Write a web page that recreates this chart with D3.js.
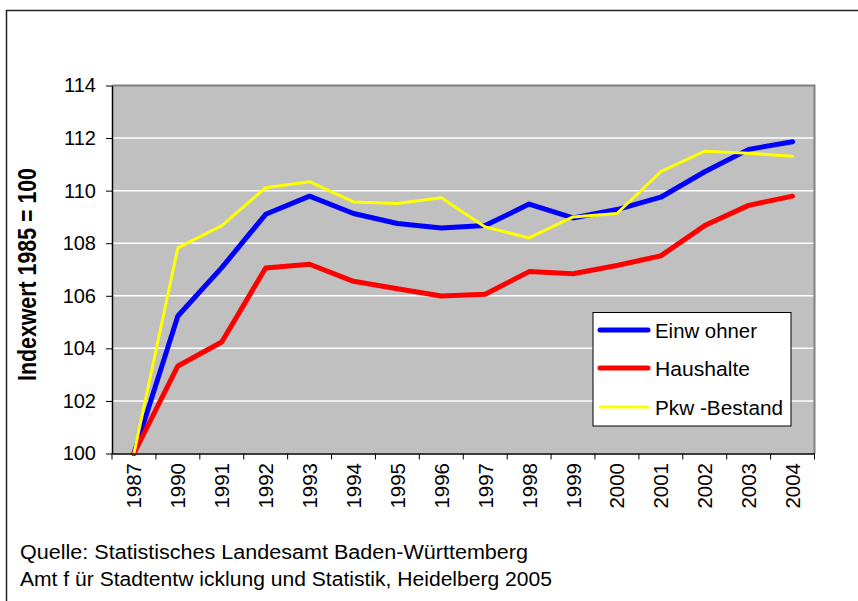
<!DOCTYPE html>
<html><head><meta charset="utf-8">
<script src="https://cdn.jsdelivr.net/npm/d3@7"></script>
<style>html,body{margin:0;padding:0;background:#fff;}svg{display:block;font-family:Arial,"Liberation Sans",sans-serif;}</style>
</head><body>
<svg id="c" width="858" height="601"></svg>
<script>
const years = ["1987","1990","1991","1992","1993","1994","1995","1996","1997","1998","1999","2000","2001","2002","2003","2004"];
const einwohner = [100,105.23,107.07,109.10,109.79,109.13,108.75,108.58,108.67,109.49,108.96,109.28,109.75,110.72,111.57,111.86];
const haushalte = [100,103.33,104.24,107.06,107.20,106.55,106.27,105.99,106.06,106.92,106.84,107.15,107.52,108.67,109.44,109.79];
const pkw = [100,107.82,108.67,110.11,110.34,109.57,109.51,109.73,108.62,108.20,109.00,109.13,110.72,111.50,111.42,111.31];
const yTicks = [100,102,104,106,108,110,112,114];
const seriesNames = ["Einw ohner","Haushalte","Pkw -Bestand"];
const seriesColors = ["#0000ff","#ff0000","#ffff00"];
const seriesWidths = [5,5,3];
const yTitle = "Indexwert 1985 = 100";
const source1 = "Quelle: Statistisches Landesamt Baden-Württemberg";
const source2 = "Amt f ür Stadtentw icklung und Statistik, Heidelberg 2005";

const svg = d3.select("#c");
const L = 112, R = 814.5, T = 85.5, B = 453.5;
const FF = "Arial, 'Liberation Sans', sans-serif";

svg.append("rect").attr("x",6.5).attr("y",10.5).attr("width",860).attr("height",620)
  .attr("fill","none").attr("stroke","#222").attr("stroke-width",1.5);

const x = d3.scaleBand().domain(years).range([L,R]).padding(0);
const y = d3.scaleLinear().domain([100,114]).range([B,T]);

svg.append("rect").attr("x",L).attr("y",T).attr("width",R-L).attr("height",B-T).attr("fill","#c0c0c0");

svg.append("g").selectAll("line").data(yTicks.filter(d=>d>100 && d<114)).join("line")
  .attr("x1",L).attr("x2",R).attr("y1",d=>y(d)).attr("y2",d=>y(d))
  .attr("stroke","#fff").attr("stroke-width",1.5);

svg.append("path").attr("d",`M${L},${T}H${R}V${B}`).attr("fill","none").attr("stroke","#808080").attr("stroke-width",2);

const line = d3.line().x((d,i)=>x(years[i])+x.bandwidth()/2).y(d=>y(d)).curve(d3.curveLinear);
[einwohner,haushalte,pkw].forEach((s,k)=>{
  svg.append("path").datum(s).attr("d",line).attr("fill","none")
    .attr("stroke",seriesColors[k]).attr("stroke-width",seriesWidths[k])
    .attr("stroke-linejoin","round").attr("stroke-linecap","round");
});

const ya = svg.append("g").attr("transform",`translate(${L},0)`)
  .call(d3.axisLeft(y).tickValues(yTicks).tickSize(6).tickSizeOuter(0).tickPadding(10));
ya.attr("font-family",FF).attr("font-size",20);
ya.select(".domain").attr("stroke","#000").attr("stroke-width",1.5);
ya.selectAll(".tick line").attr("stroke","#000");
ya.selectAll(".tick text").attr("fill","#000");

const xa = svg.append("g").attr("transform",`translate(0,${B})`)
  .call(d3.axisBottom(x).tickSize(0).tickSizeOuter(0));
xa.select(".domain").attr("stroke","#000").attr("stroke-width",1.5);
xa.selectAll(".tick text").remove();
const bounds = years.map(d=>x(d)).concat([R]);
xa.selectAll(".bt").data(bounds).join("line").attr("class","bt")
  .attr("x1",d=>d).attr("x2",d=>d).attr("y1",0).attr("y2",6).attr("stroke","#000");
svg.append("g").attr("font-family",FF).selectAll("text").data(years).join("text")
  .attr("transform",d=>`translate(${x(d)+x.bandwidth()/2+7.5},463) rotate(-90)`)
  .attr("text-anchor","end").attr("font-size",20.5).attr("fill","#000").text(d=>d);

svg.append("text").attr("transform",`translate(36,274.5) rotate(-90)`)
  .attr("text-anchor","middle").attr("font-size",25).attr("font-weight","bold")
  .attr("textLength",213).attr("lengthAdjust","spacingAndGlyphs").text(yTitle);

const lg = svg.append("g");
lg.append("rect").attr("x",593).attr("y",312.5).attr("width",198).attr("height",113.5)
  .attr("fill","#fff").attr("stroke","#000").attr("stroke-width",1);
const rowY = [330,368,407];
const txtLen = [102,95,128];
seriesNames.forEach((n,k)=>{
  lg.append("line").attr("x1",600).attr("x2",648).attr("y1",rowY[k]).attr("y2",rowY[k])
    .attr("stroke",seriesColors[k]).attr("stroke-width",seriesWidths[k]).attr("stroke-linecap","round");
  lg.append("text").attr("x",655).attr("y",rowY[k]+7.5).attr("font-size",20.5)
    .attr("textLength",txtLen[k]).attr("lengthAdjust","spacingAndGlyphs").text(n);
});

svg.append("text").attr("x",20).attr("y",559).attr("font-size",19.5)
  .attr("textLength",508).attr("lengthAdjust","spacingAndGlyphs").text(source1);
svg.append("text").attr("x",20).attr("y",586).attr("font-size",19.5)
  .attr("textLength",532).attr("lengthAdjust","spacingAndGlyphs").text(source2);
</script>
</body></html>
